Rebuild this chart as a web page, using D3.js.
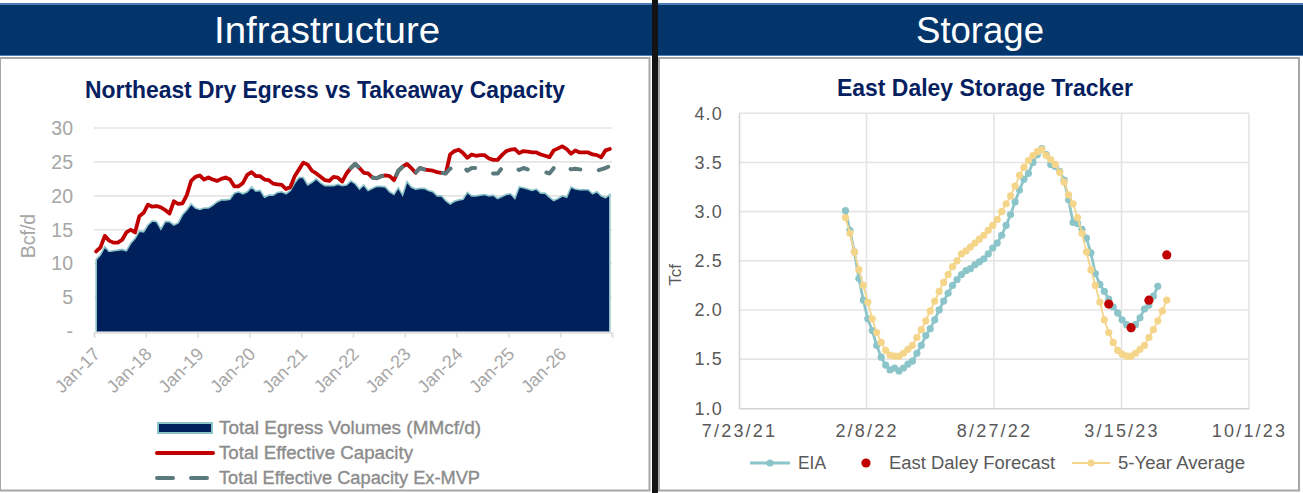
<!DOCTYPE html>
<html>
<head>
<meta charset="utf-8">
<script src="https://cdn.jsdelivr.net/npm/d3@7"></script>
<style>
  html, body { margin: 0; padding: 0; background: #fff; overflow: hidden; }
  text { font-family: "Liberation Sans", sans-serif; }
</style>
</head>
<body>
<svg id="chart" width="1303" height="493"></svg>
<script>
// left chart: monthly, Jan-17 to Dec-26, Bcf/d
const egressYears = ['Jan-17', 'Jan-18', 'Jan-19', 'Jan-20', 'Jan-21', 'Jan-22', 'Jan-23', 'Jan-24', 'Jan-25', 'Jan-26']
const egressTicks = [0, 5, 10, 15, 20, 25, 30]
const egressVolumes = [
  10.6, 11.3, 12.5, 11.8, 11.9, 12.0, 12.1, 11.9, 13.0, 13.7, 14.8, 14.7,
  15.7, 16.3, 16.2, 15.1, 16.2, 16.2, 15.7, 16.0, 17.2, 17.9, 18.8, 18.2,
  18.0, 18.2, 18.2, 18.6, 19.1, 19.4, 19.4, 19.5, 20.4, 20.6, 20.3, 20.6,
  21.3, 20.7, 20.8, 19.8, 20.1, 20.1, 20.5, 20.6, 20.3, 20.8, 21.9, 22.7,
  22.7, 21.6, 22.0, 22.5, 21.9, 21.5, 21.5, 21.5, 21.7, 21.5, 21.6, 22.2,
  21.8, 21.0, 21.6, 20.8, 21.1, 21.4, 21.4, 21.3, 20.6, 20.2, 21.2, 20.1,
  22.1, 21.3, 21.0, 21.1, 21.1, 20.8, 20.6, 20.0, 20.0, 19.3, 18.8, 19.2,
  19.4, 19.5, 20.5, 20.0, 20.0, 20.1, 20.2, 20.0, 20.1, 19.6, 19.9, 20.2,
  20.3, 19.6, 21.3, 21.2, 21.0, 20.8, 21.0, 20.4, 20.4, 19.8, 19.3, 19.6,
  20.0, 19.8, 21.3, 21.0, 20.9, 20.9, 20.9, 20.3, 20.6, 20.0, 19.7, 20.2
]
const effectiveCapacity = [
  11.8, 12.4, 14.1, 13.4, 13.1, 13.1, 13.5, 14.6, 15.0, 14.6, 17.0, 17.5,
  18.7, 18.4, 18.5, 18.3, 17.9, 17.4, 19.2, 18.8, 18.9, 20.1, 22.2, 22.8,
  23.0, 22.4, 22.7, 22.4, 22.2, 22.5, 22.7, 22.4, 21.4, 21.4, 21.9, 23.1,
  23.5, 22.9, 22.9, 22.4, 22.3, 21.8, 21.7, 21.6, 21.0, 21.3, 22.9, 23.9,
  24.9, 24.6, 23.7, 23.3, 22.8, 22.3, 22.2, 22.8, 22.7, 22.1, 23.3, 24.1,
  24.7, 24.1, 23.4, 23.3, 22.7, 22.6, 22.9, 23.0, 22.9, 22.3, 23.7, 24.3,
  24.7, 24.1, 23.4, 24.1, 23.9, 23.8, 23.7, 23.5, 23.4, 23.3, 26.1, 26.6,
  26.8, 26.3, 25.6, 26.1, 25.9, 26.0, 26.0, 25.5, 25.3, 25.3, 26.0, 26.6,
  26.8, 26.9, 26.3, 26.6, 26.5, 26.4, 26.4, 26.1, 25.9, 25.7, 26.7, 27.0,
  27.3, 26.9, 26.2, 26.7, 26.4, 26.4, 26.4, 26.1, 26.0, 25.7, 26.7, 26.9
]
// nothing visible before Dec-21, so the series only starts there
const exMvpStart = 59
const exMvpCapacity = [
  24.1, 24.7, 24.1, 23.4, 23.3, 22.7, 22.6, 22.9, 23.0, 22.9, 22.3, 23.7,
  24.3, 24.7, 24.1, 23.4, 24.1, 23.9, 23.8, 23.7, 23.5, 23.4, 23.3, 24.0,
  24.3, 24.7, 24.3, 23.7, 24.1, 24.1, 23.9, 23.8, 23.4, 23.3, 23.3, 24.1,
  24.3, 24.2, 24.2, 23.8, 24.1, 23.9, 23.8, 23.8, 23.7, 23.5, 23.3, 24.1,
  24.5, 24.6, 24.3, 23.9, 24.0, 23.9, 23.9, 23.6, 23.6, 23.7, 23.9, 24.1, 24.4
]

// right chart: weekly, Tcf
const storageFirstWeek = new Date(2022, 0, 6)
const storageXLabels = ['7/23/21', '2/8/22', '8/27/22', '3/15/23', '10/1/23']
const storageXDates = [new Date(2021, 6, 23), new Date(2022, 1, 8), new Date(2022, 7, 27), new Date(2023, 2, 15), new Date(2023, 9, 1)]
const storageYTicks = [1, 1.5, 2, 2.5, 3, 3.5, 4]
const eiaStorage = [
  3.01, 2.81, 2.59, 2.32, 2.10, 1.91, 1.79, 1.64, 1.52, 1.44, 1.39, 1.41, 1.38, 1.41, 1.45, 1.48,
  1.56, 1.64, 1.74, 1.81, 1.90, 2.00, 2.09, 2.17, 2.25, 2.31, 2.36, 2.40, 2.42, 2.46, 2.49, 2.52,
  2.57, 2.63, 2.68, 2.76, 2.86, 2.97, 3.10, 3.22, 3.33, 3.39, 3.50, 3.58, 3.64, 3.58, 3.48, 3.46,
  3.41, 3.32, 3.12, 2.89, 2.88, 2.82, 2.73, 2.58, 2.37, 2.26, 2.19, 2.11, 2.03, 1.97, 1.90, 1.85,
  1.81, 1.85, 1.92, 2.01, 2.05, 2.14, 2.24
]
const fiveYearAverage = [
  2.94, 2.78, 2.59, 2.41, 2.25, 2.08, 1.91, 1.77, 1.67, 1.59, 1.54, 1.53, 1.53, 1.56, 1.60, 1.64,
  1.72, 1.80, 1.89, 1.99, 2.09, 2.19, 2.28, 2.36, 2.44, 2.50, 2.57, 2.60, 2.64, 2.68, 2.72, 2.76,
  2.81, 2.86, 2.92, 3.00, 3.08, 3.16, 3.26, 3.37, 3.45, 3.52, 3.57, 3.61, 3.63, 3.57, 3.53, 3.48,
  3.40, 3.30, 3.17, 3.08, 2.94, 2.78, 2.59, 2.41, 2.25, 2.08, 1.90, 1.77, 1.67, 1.59, 1.55, 1.53,
  1.53, 1.56, 1.60, 1.64, 1.72, 1.80, 1.89, 1.99, 2.10
]
const forecastWeeks = [59, 64, 68, 72]
const forecastValues = [2.06, 1.82, 2.10, 2.56]

const navy = '#00205b'
const teal = '#8cc5c9'
const red = '#c00000'
const slate = '#5a7a7d'
const sand = '#f5d58a'
const gridColor = '#e4e4e4'

const svg = d3.select('#chart')

// squeeze or stretch a label to the width it has in the picture
const fit = (sel, width) => sel.attr('textLength', width).attr('lengthAdjust', 'spacingAndGlyphs')

// ---- page furniture
svg.append('rect').attr('x', 0).attr('y', 58).attr('width', 649.5).attr('height', 432.5)
  .attr('fill', '#fff').attr('stroke', '#a6a6a6').attr('stroke-width', 2)
svg.append('rect').attr('x', 659).attr('y', 58).attr('width', 640).attr('height', 432.5)
  .attr('fill', '#fff').attr('stroke', '#a6a6a6').attr('stroke-width', 2)

svg.append('rect').attr('x', 0).attr('y', 3).attr('width', 1303).attr('height', 53)
  .attr('fill', '#4a7ebb')
svg.append('rect').attr('x', 0).attr('y', 5).attr('width', 1303).attr('height', 50)
  .attr('fill', '#03356b')
svg.append('rect').attr('x', 652).attr('y', 0).attr('width', 6).attr('height', 493)
  .attr('fill', '#141414')

const heading = (x, label, width) => fit(svg.append('text')
  .attr('x', x).attr('y', 43).attr('text-anchor', 'middle')
  .attr('fill', '#fff').attr('font-size', 37).text(label), width)
heading(327, 'Infrastructure', 226)
heading(980, 'Storage', 128)

const title = (x, y, label, width) => fit(svg.append('text')
  .attr('x', x).attr('y', y).attr('text-anchor', 'middle')
  .attr('fill', '#04205f').attr('font-size', 24).attr('font-weight', 'bold').text(label), width)
title(325, 98, 'Northeast Dry Egress vs Takeaway Capacity', 480)
title(985, 96, 'East Daley Storage Tracker', 296)

// ---- left chart
const xEgress = d3.scaleLinear().domain([0, 120]).range([94, 612])
const yEgress = d3.scaleLinear().domain([0, 30]).range([331.5, 128])
const monthX = (i) => xEgress(i + 0.5)

const leftGrid = svg.append('g')
leftGrid.selectAll('line').data(egressTicks.slice(1)).enter().append('line')
  .attr('x1', 94).attr('x2', 612)
  .attr('y1', (d) => yEgress(d)).attr('y2', (d) => yEgress(d))
  .attr('stroke', gridColor).attr('stroke-width', 1.6)

const area = d3.area().x((d, i) => monthX(i)).y0(yEgress(0)).y1((d) => yEgress(d))
svg.append('path').datum(egressVolumes).attr('d', area)
  .attr('fill', navy).attr('stroke', 'none')
// teal outline on the top and both sides, not along the base
const outline = [[0, 0]].concat(egressVolumes.map((d, i) => [i, d]), [[119, 0]])
svg.append('path').datum(outline)
  .attr('d', d3.line().x((d) => monthX(d[0])).y((d) => yEgress(d[1])))
  .attr('fill', 'none').attr('stroke', teal).attr('stroke-width', 1.6)

const monthLine = d3.line().x((d, i) => monthX(i)).y((d) => yEgress(d))
svg.append('path').datum(effectiveCapacity).attr('d', monthLine)
  .attr('fill', 'none').attr('stroke', red).attr('stroke-width', 3.8)
  .attr('stroke-linecap', 'round').attr('stroke-linejoin', 'round')
const exMvpLine = d3.line().x((d, i) => monthX(i + exMvpStart)).y((d) => yEgress(d))
svg.append('path').datum(exMvpCapacity).attr('d', exMvpLine)
  .attr('fill', 'none').attr('stroke', slate).attr('stroke-width', 4)
  .attr('stroke-linecap', 'round').attr('stroke-linejoin', 'round')
  .attr('stroke-dasharray', '10 19')

const leftX = svg.append('g').attr('transform', 'translate(0,332.5)')
  .call(d3.axisBottom(xEgress).tickValues(d3.range(0, 121, 12)).tickSize(5)
    .tickFormat((d, i) => egressYears[i] || ''))
leftX.select('.domain').attr('stroke', '#dcdcdc').attr('stroke-width', 1.6)
leftX.selectAll('.tick line').attr('stroke', '#dcdcdc').attr('stroke-width', 1.6)
leftX.selectAll('.tick text')
  .attr('transform', 'translate(-1,15) rotate(-45)')
  .attr('text-anchor', 'end').attr('dx', 0).attr('dy', '0.6em')
  .attr('x', 0).attr('y', 0)
  .attr('fill', '#a6a6a6').attr('font-size', 18)

const leftY = svg.append('g').attr('transform', 'translate(82,0)')
  .call(d3.axisLeft(yEgress).tickValues(egressTicks).tickSize(0)
    .tickFormat((d) => (d === 0 ? '-' : d)))
leftY.select('.domain').remove()
leftY.selectAll('text').attr('x', -9).attr('fill', '#a6a6a6').attr('font-size', 19.5)

svg.append('text').attr('transform', 'translate(35,236) rotate(-90)')
  .attr('text-anchor', 'middle').attr('fill', '#a6a6a6').attr('font-size', 19.5).text('Bcf/d')

// legend
const egressLegend = (y, label, width) => fit(svg.append('text')
  .attr('x', 219).attr('y', y).attr('fill', '#8c8c8c').attr('stroke', '#8c8c8c').attr('stroke-width', 0.35)
  .attr('font-size', 18).text(label), width)
svg.append('rect').attr('x', 158).attr('y', 423).attr('width', 54).attr('height', 10)
  .attr('fill', navy).attr('stroke', teal).attr('stroke-width', 2)
egressLegend(434, 'Total Egress Volumes (MMcf/d)', 262)
svg.append('line').attr('x1', 157).attr('x2', 213).attr('y1', 453).attr('y2', 453)
  .attr('stroke', red).attr('stroke-width', 4).attr('stroke-linecap', 'round')
egressLegend(459, 'Total Effective Capacity', 194)
svg.append('line').attr('x1', 157).attr('x2', 209).attr('y1', 478).attr('y2', 478)
  .attr('stroke', slate).attr('stroke-width', 4).attr('stroke-linecap', 'round')
  .attr('stroke-dasharray', '16 18')
egressLegend(484, 'Total Effective Capacity Ex-MVP', 261)

// ---- right chart
const xStorage = d3.scaleTime().domain([storageXDates[0], storageXDates[4]]).range([739, 1249])
const yStorage = d3.scaleLinear().domain([1, 4]).range([408.3, 113.3])
const weekDate = (i) => d3.timeDay.offset(storageFirstWeek, i * 7)

svg.append('g').selectAll('line').data(storageYTicks.slice(1)).enter().append('line')
  .attr('x1', 739).attr('x2', 1249)
  .attr('y1', (d) => yStorage(d)).attr('y2', (d) => yStorage(d))
  .attr('stroke', gridColor).attr('stroke-width', 1.6)
svg.append('g').selectAll('line').data(storageXDates.slice(1)).enter().append('line')
  .attr('x1', (d) => xStorage(d)).attr('x2', (d) => xStorage(d))
  .attr('y1', 113.3).attr('y2', 408.3)
  .attr('stroke', gridColor).attr('stroke-width', 1.6)

const rightX = svg.append('g').attr('transform', 'translate(0,408.3)')
  .call(d3.axisBottom(xStorage).tickValues(storageXDates).tickSize(0)
    .tickFormat((d, i) => storageXLabels[i]))
rightX.select('.domain').attr('stroke', '#d4d4d4').attr('stroke-width', 1.6)
rightX.selectAll('text').attr('y', 16).attr('dy', '0.71em')
  .attr('fill', '#595959').attr('font-size', 18).attr('letter-spacing', 2.2)

const rightY = svg.append('g').attr('transform', 'translate(739,0)')
  .call(d3.axisLeft(yStorage).tickValues(storageYTicks).tickSize(0).tickFormat(d3.format('.1f')))
rightY.select('.domain').attr('stroke', '#d4d4d4').attr('stroke-width', 1.6)
rightY.selectAll('text').attr('x', -16).attr('fill', '#595959')
  .attr('font-size', 18).attr('letter-spacing', 1.2)

svg.append('text').attr('transform', 'translate(681,275) rotate(-90)')
  .attr('text-anchor', 'middle').attr('fill', '#595959').attr('font-size', 17).text('Tcf')

const weekLine = d3.line().x((d, i) => xStorage(weekDate(i))).y((d) => yStorage(d))
const drawSeries = (values, color, width, r) => {
  svg.append('path').datum(values).attr('d', weekLine)
    .attr('fill', 'none').attr('stroke', color).attr('stroke-width', width)
  svg.append('g').selectAll('circle').data(values).enter().append('circle')
    .attr('cx', (d, i) => xStorage(weekDate(i))).attr('cy', (d) => yStorage(d))
    .attr('r', r).attr('fill', color)
}
drawSeries(eiaStorage, teal, 2.8, 3.6)
drawSeries(fiveYearAverage, sand, 1.8, 3.6)
svg.append('g').selectAll('circle').data(forecastValues).enter().append('circle')
  .attr('cx', (d, i) => xStorage(weekDate(forecastWeeks[i]))).attr('cy', (d) => yStorage(d))
  .attr('r', 4.6).attr('fill', red)

// legend
const storageLegend = (x, label, width) => fit(svg.append('text')
  .attr('x', x).attr('y', 469).attr('fill', '#595959').attr('font-size', 18).text(label), width)
svg.append('line').attr('x1', 750).attr('x2', 790).attr('y1', 463).attr('y2', 463)
  .attr('stroke', teal).attr('stroke-width', 2.8)
svg.append('circle').attr('cx', 770).attr('cy', 463).attr('r', 3.6).attr('fill', teal)
storageLegend(798, 'EIA', 28)
svg.append('circle').attr('cx', 866).attr('cy', 463).attr('r', 4.6).attr('fill', red)
storageLegend(889, 'East Daley Forecast', 166)
svg.append('line').attr('x1', 1072).attr('x2', 1110).attr('y1', 463).attr('y2', 463)
  .attr('stroke', sand).attr('stroke-width', 1.8)
svg.append('circle').attr('cx', 1091).attr('cy', 463).attr('r', 3.6).attr('fill', sand)
storageLegend(1118, '5-Year Average', 127)
</script>
</body>
</html>
